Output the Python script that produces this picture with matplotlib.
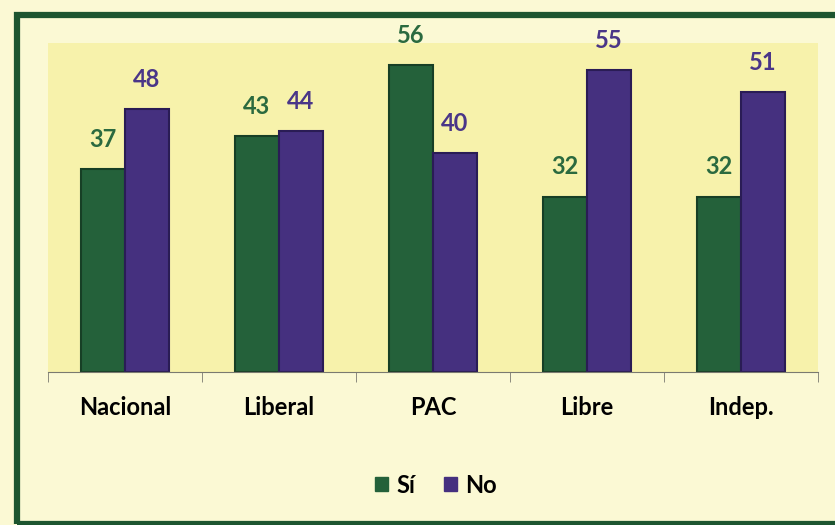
import numpy as np
import matplotlib.pyplot as plt
from matplotlib.patches import Rectangle, Patch

partidos = ['Nacional', 'Liberal', 'PAC', 'Libre', 'Indep.']
si = [37, 43, 56, 32, 32]
no = [48, 44, 40, 55, 51]

verde = '#24613a'
morado = '#45307f'
plt.rcParams['font.family'] = ['Lato', 'DejaVu Sans']

fig = plt.figure(figsize=(8.35, 5.25), dpi=100, facecolor='#fbf9d4')

# marco verde
fig.patches.append(Rectangle((16.5 / 835, 1 / 525), 840 / 835, 509 / 525,
                             transform=fig.transFigure, facecolor='none',
                             edgecolor='#1d5530', linewidth=4.5, zorder=-1))

ax = fig.add_axes([48 / 835, 153 / 525, 770 / 835, 329 / 525])
ax.set_zorder(1)
ax.set_facecolor('#f7f2ab')

x = np.arange(len(partidos))
w = 0.285
b1 = ax.bar(x - w / 2, si, w, color=verde, edgecolor='#173f25', linewidth=1.5, zorder=2)
b2 = ax.bar(x + w / 2, no, w, color=morado, edgecolor='#2a1c55', linewidth=1.5, zorder=2)

for bars, vals, col in [(b1, si, '#2b6a3f'), (b2, no, '#4a3688')]:
    for r, v in zip(bars, vals):
        ax.annotate(str(v), (r.get_x() + r.get_width() / 2, v), xytext=(0, 13),
                    textcoords='offset points', ha='center', va='bottom',
                    fontsize=17, fontweight='bold', color=col, annotation_clip=False)

ax.set_xlim(-0.5, len(partidos) - 0.5)
ax.set_ylim(0, 60)
ax.set_yticks([])
for s in ['top', 'right', 'left']:
    ax.spines[s].set_visible(False)
ax.spines['bottom'].set_color('#7a7a70')
ax.set_xticks(np.arange(-0.5, len(partidos)), minor=True)
ax.set_xticks(x)
ax.set_xticklabels(partidos, fontsize=17, fontweight='bold')
ax.tick_params(axis='x', which='major', length=0, pad=17)
ax.tick_params(axis='x', which='minor', length=7, color='#7a7a70')

handles = [Patch(color=verde, label='Sí'), Patch(color=morado, label='No')]
fig.legend(handles=handles, loc='center', bbox_to_anchor=(0.522, 0.076), ncol=2,
           frameon=False, handlelength=0.55, handleheight=0.55, handletextpad=0.35,
           columnspacing=1.2, prop={'size': 17, 'weight': 'bold'})

fig.savefig('out.png', dpi=100, facecolor=fig.get_facecolor())
